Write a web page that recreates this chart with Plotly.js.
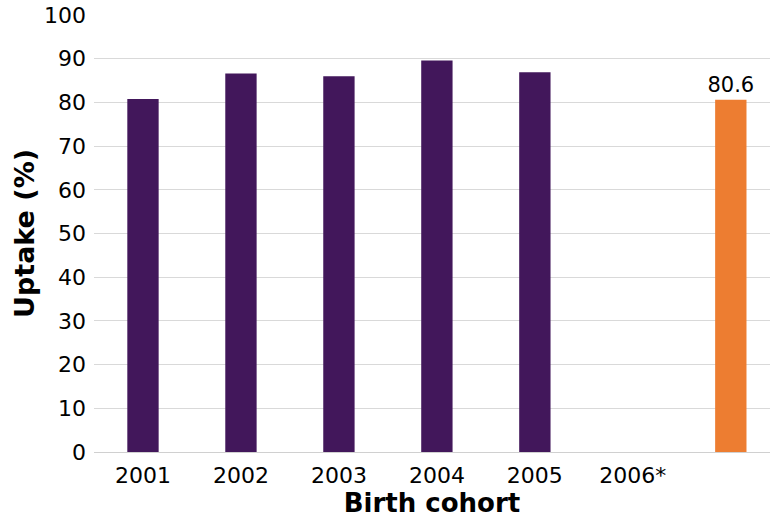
<!DOCTYPE html>
<html><head><meta charset="utf-8">
<script src="https://cdn.plot.ly/plotly-3.0.1.min.js"></script>
<style>html,body{margin:0;padding:0;background:#fff}#c{width:770px;height:520px}</style>
</head><body><div id="c"></div>
<script>
const categories = ["2001","2002","2003","2004","2005","2006*"," "];
const cohortValues = [80.8, 86.6, 86.0, 89.6, 86.9, null, null];
const latestValues = [null, null, null, null, null, null, 80.6];
const latestLabels = ["","","","","","","80.6"];
const yTicks = [0,10,20,30,40,50,60,70,80,90,100];

const font = "DejaVu Sans, Verdana, sans-serif";
const traces = [
  {type:"bar", x:categories, y:cohortValues, marker:{color:"#42175B"}, width:0.32, hoverinfo:"skip"},
  {type:"bar", x:categories, y:latestValues, marker:{color:"#ED7D31"}, width:0.32,
   text:latestLabels, textposition:"outside", cliponaxis:false, constraintext:"none",
   textfont:{family:font, size:21, color:"#000"}, hoverinfo:"skip"}
];
const layout = {
  width:770, height:520, barmode:"overlay", showlegend:false,
  paper_bgcolor:"#fff", plot_bgcolor:"#fff",
  margin:{l:94, r:0, t:15, b:68},
  xaxis:{type:"category", range:[-0.5,6.4], tickfont:{family:font,size:22,color:"#000"},
    showgrid:false, showline:true, linecolor:"#d0d0d0", ticks:"", ticklabelstandoff:4,
    title:{text:"<b>Birth cohort</b>", font:{family:font,size:26,color:"#000"}, standoff:2}},
  yaxis:{range:[0,100], tickvals:yTicks, tickfont:{family:font,size:22,color:"#000"},
    gridcolor:"#d9d9d9", zeroline:false, ticks:"", ticklen:0, ticklabelstandoff:7,
    title:{text:"<b>Uptake (%)</b>", font:{family:font,size:27,color:"#000"}, standoff:1}}
};
Plotly.newPlot("c", traces, layout, {staticPlot:true, displayModeBar:false});
</script></body></html>
